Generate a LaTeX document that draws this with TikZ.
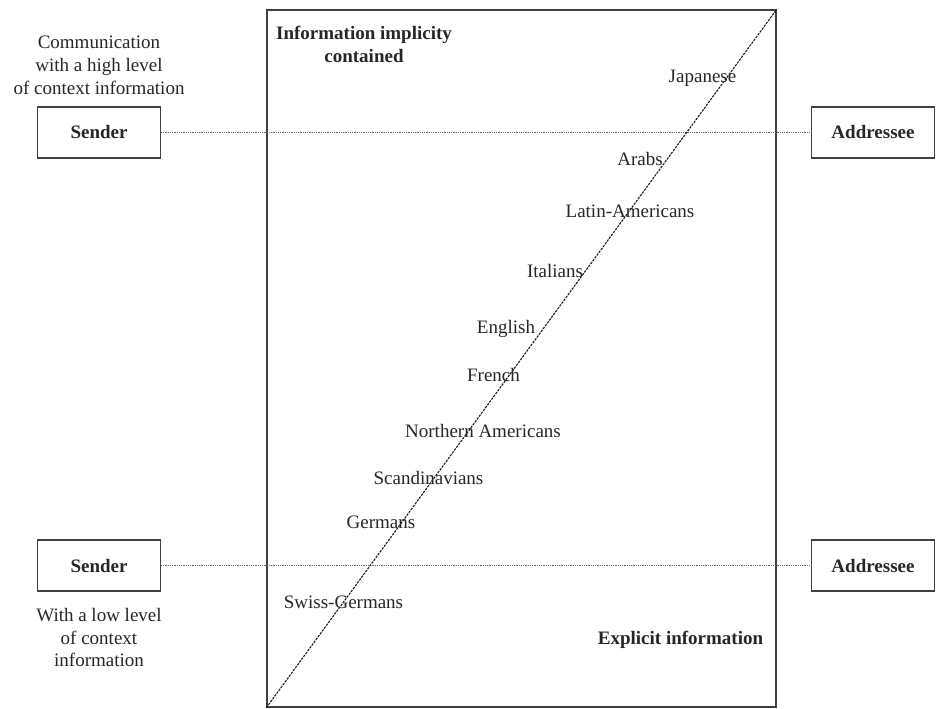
\documentclass[tikz,border=0pt]{standalone}
\usepackage{fontspec}
\setmainfont{Liberation Serif}
\begin{document}
\begin{tikzpicture}[x=1pt,y=-1pt,
  every node/.style={text=black!85},
  lbl/.style={font=\fontsize{19}{22}\selectfont, inner sep=0pt, anchor=mid},
  blbl/.style={font=\fontsize{19}{22.5}\selectfont\bfseries, inner sep=0pt, align=center},
  party/.style={draw=black!75, line width=1.1pt, minimum width=123pt, minimum height=51pt, inner sep=0pt, font=\fontsize{19}{22}\selectfont\bfseries},
  note/.style={font=\fontsize{19}{22.8}\selectfont, inner sep=0pt, align=center},
  link/.style={draw=black!60, line width=0.8pt, dash pattern=on 0.9pt off 0.9pt},
  diag/.style={draw=black!90, line width=1.1pt, dash pattern=on 2.4pt off 1.1pt}]
\useasboundingbox (0,0) rectangle (940,709);
\node[draw=black!75, line width=1.3pt, minimum width=509pt, minimum height=697pt, inner sep=0pt] (frame) at (521.5,358.5) {};
\node[party] (s1) at (99,132.5) {Sender};
\node[party] (s2) at (99,565.5) {Sender};
\node[party] (a1) at (873,132.5) {Addressee};
\node[party] (a2) at (873,565.5) {Addressee};
\draw[link] (s1.east) -- (a1.west);
\draw[link] (s2.east) -- (a2.west);
\draw[diag] (frame.south west) -- (frame.north east);
\node[note] (tnote) at (99,65.5) {Communication\\with a high level\\of context information};
\node[note] (bnote) at (99,637.5) {With a low level\\of context\\information};
\node[blbl] (impl) at (364,44.5) {Information implicity\\contained};
\node[blbl, anchor=mid] (expl) at (680.5,642) {Explicit information};
\node[lbl] (jp) at (702.5,80) {Japanese};
\node[lbl] (ar) at (640,163) {Arabs};
\node[lbl] (la) at (630,215) {Latin-Americans};
\node[lbl] (it) at (555,275) {Italians};
\node[lbl] (en) at (506,331) {English};
\node[lbl] (fr) at (493.5,379) {French};
\node[lbl] (na) at (483,435) {Northern Americans};
\node[lbl] (sc) at (428.5,482) {Scandinavians};
\node[lbl] (ge) at (381,526) {Germans};
\node[lbl] (sg) at (343.5,606) {Swiss-Germans};
\end{tikzpicture}
\end{document}
